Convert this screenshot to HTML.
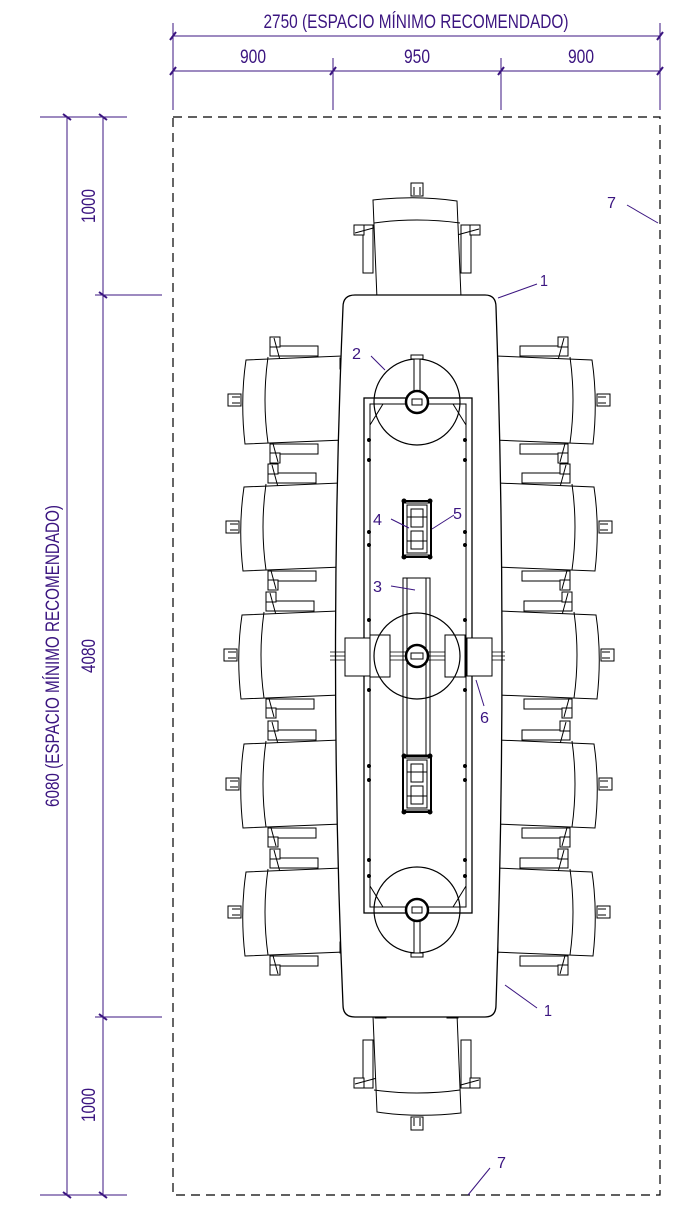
<!DOCTYPE html>
<html><head><meta charset="utf-8"><style>
html,body{margin:0;padding:0;background:#fff;}
svg{display:block;}
text{font-family:"Liberation Sans",sans-serif;fill:#3b1580;}
</style></head><body>
<svg width="685" height="1205" viewBox="0 0 685 1205" xmlns="http://www.w3.org/2000/svg">
<defs>
<g id="chair" fill="#fff" stroke="#000" stroke-width="1">
  <rect x="-12" y="-6" width="13" height="12"/>
  <path d="M-8,-3 h8 M-8,3 h8" fill="none"/>
  <rect x="30" y="-54" width="48" height="10"/>
  <rect x="30" y="44" width="48" height="10"/>
  <rect x="30" y="-63" width="10" height="10"/>
  <rect x="30" y="53" width="10" height="10"/>
  <path d="M34,-62 L40,-40 M38,62 L32,40" fill="none"/>
  <path d="M6,-40 Q0,0 5,44 L104,40 Q100,0 102,-44 Z"/>
  <path d="M28,-43 Q22,0 28,43" fill="none"/>
  <rect x="100" y="-42" width="4" height="11"/>
  <rect x="100" y="30" width="4" height="11"/>
</g>
<g id="mech" fill="none" stroke="#000" stroke-width="1">
  <rect x="-14" y="-28" width="28" height="56" stroke-width="2"/>
  <rect x="-10" y="-24" width="20" height="48"/>
  <rect x="-6" y="-20" width="12" height="18"/>
  <rect x="-6" y="2" width="12" height="18"/>
  <path d="M-14,-26 h28 M-14,26 h28 M-10,-12 h20 M-10,12 h20"/>
  <circle cx="-13" cy="-28" r="2" fill="#000"/><circle cx="13" cy="-28" r="2" fill="#000"/>
  <circle cx="-13" cy="28" r="2" fill="#000"/><circle cx="13" cy="28" r="2" fill="#000"/>
</g>
<g id="leg" fill="none" stroke="#000">
  <circle cx="0" cy="0" r="43" stroke-width="1.2"/>
  <rect x="-3" y="-44" width="6" height="34" fill="#fff"/>
  <rect x="-6" y="-47" width="12" height="4" fill="#fff"/>
  <circle cx="0" cy="0" r="11" stroke-width="2.5" fill="#fff"/>
  <rect x="-5" y="-3" width="10" height="6"/>
</g>
</defs>

<g stroke="#3b1580" stroke-width="1" fill="none">
  <path d="M173,23 V110 M333,58 V110 M501,58 V110 M660,23 V110"/>
  <path d="M173,36 H660 M173,71 H660"/>
  <path d="M170,40 L176,32 M657,40 L663,32 M170,75 L176,67 M330,75 L336,67 M498,75 L504,67 M657,75 L663,67" stroke-width="2"/>
  <path d="M40,117 H127 M95,295 H162 M95,1017 H162 M40,1195 H127"/>
  <path d="M67,117 V1195 M103,117 V1195"/>
  <path d="M63,114 L71,120 M99,114 L107,120 M99,292 L107,298 M99,1014 L107,1020 M63,1192 L71,1198 M99,1192 L107,1198" stroke-width="2"/>
</g>
<text x="416" y="28" font-size="19" text-anchor="middle" textLength="305" lengthAdjust="spacingAndGlyphs">2750 (ESPACIO MÍNIMO RECOMENDADO)</text>
<text x="253" y="63" font-size="19" text-anchor="middle" textLength="26" lengthAdjust="spacingAndGlyphs">900</text>
<text x="417" y="63" font-size="19" text-anchor="middle" textLength="26" lengthAdjust="spacingAndGlyphs">950</text>
<text x="581" y="63" font-size="19" text-anchor="middle" textLength="26" lengthAdjust="spacingAndGlyphs">900</text>
<text transform="translate(95,206) rotate(-90)" font-size="19" text-anchor="middle" textLength="34" lengthAdjust="spacingAndGlyphs">1000</text>
<text transform="translate(95,656) rotate(-90)" font-size="19" text-anchor="middle" textLength="34" lengthAdjust="spacingAndGlyphs">4080</text>
<text transform="translate(95,1105) rotate(-90)" font-size="19" text-anchor="middle" textLength="34" lengthAdjust="spacingAndGlyphs">1000</text>
<text transform="translate(59,656) rotate(-90)" font-size="19" text-anchor="middle" textLength="302" lengthAdjust="spacingAndGlyphs">6080 (ESPACIO MÍNIMO RECOMENDADO)</text>

<rect x="173" y="117" width="487" height="1078" fill="none" stroke="#000" stroke-width="1.2" stroke-dasharray="9,6"/>

<use href="#chair" transform="translate(417,195) rotate(90)"/>
<use href="#chair" transform="translate(417,1118) rotate(-90)"/>
<use href="#chair" transform="translate(240,400)"/>
<use href="#chair" transform="translate(238,527)"/>
<use href="#chair" transform="translate(236,655)"/>
<use href="#chair" transform="translate(238,784)"/>
<use href="#chair" transform="translate(240,912)"/>
<use href="#chair" transform="translate(598,400) scale(-1,1)"/>
<use href="#chair" transform="translate(600,527) scale(-1,1)"/>
<use href="#chair" transform="translate(602,655) scale(-1,1)"/>
<use href="#chair" transform="translate(600,784) scale(-1,1)"/>
<use href="#chair" transform="translate(598,912) scale(-1,1)"/>

<path d="M355,295 H485 Q496,295 496,307 Q508,656 496,1005 Q496,1017 485,1017 H355 Q343,1017 343,1005 Q328,656 343,307 Q343,295 355,295 Z" fill="#fff" stroke="#000" stroke-width="1.3"/>

<g fill="none" stroke="#000" stroke-width="1">
  <rect x="364" y="398" width="108" height="515" stroke-width="1.3"/>
  <rect x="370" y="404" width="96" height="503"/>
  <path d="M370,425 L383,404 M466,425 L453,404 M370,886 L383,907 M466,886 L453,907"/>
  <path d="M403,578 H430 V755 H403 Z M407,578 V755 M426,578 V755"/>
  <path d="M330,656 H505 M330,652 H505 M330,660 H505" stroke-width="0.8"/>
  <rect x="345" y="638" width="25" height="38" fill="#fff"/>
  <rect x="370" y="635" width="20" height="42" fill="#fff"/>
  <rect x="445" y="635" width="20" height="42" fill="#fff"/>
  <rect x="467" y="638" width="25" height="38" fill="#fff"/>
</g>
<g fill="#000">
  <circle cx="369" cy="440" r="2"/><circle cx="369" cy="460" r="2"/><circle cx="465" cy="440" r="2"/><circle cx="465" cy="460" r="2"/>
  <circle cx="369" cy="532" r="2"/><circle cx="369" cy="545" r="2"/><circle cx="465" cy="532" r="2"/><circle cx="465" cy="545" r="2"/>
  <circle cx="369" cy="620" r="2"/><circle cx="465" cy="620" r="2"/><circle cx="369" cy="690" r="2"/><circle cx="465" cy="690" r="2"/>
  <circle cx="369" cy="766" r="2"/><circle cx="369" cy="780" r="2"/><circle cx="465" cy="766" r="2"/><circle cx="465" cy="780" r="2"/>
  <circle cx="369" cy="860" r="2"/><circle cx="369" cy="876" r="2"/><circle cx="465" cy="860" r="2"/><circle cx="465" cy="876" r="2"/>
</g>
<use href="#leg" transform="translate(417,402)"/>
<use href="#leg" transform="translate(417,910) scale(1,-1)"/>
<g fill="none" stroke="#000">
  <circle cx="417" cy="656" r="43" stroke-width="1.2"/>
  <circle cx="417" cy="656" r="11" stroke-width="2.5" fill="#fff"/>
  <rect x="411" y="653" width="12" height="6"/>
</g>
<use href="#mech" transform="translate(417,529)"/>
<use href="#mech" transform="translate(417,784)"/>

<g stroke="#3b1580" stroke-width="1" fill="none">
  <path d="M537,284 L498,298"/>
  <path d="M371,356 L385,370"/>
  <path d="M627,205 L658,223"/>
  <path d="M537,1008 L505,985"/>
  <path d="M490,1168 L468,1195"/>
  <path d="M391,586 L415,590"/>
  <path d="M391,519 L409,528"/>
  <path d="M454,515 L432,529"/>
  <path d="M484,706 L476,680"/>
</g>
<text x="540" y="286" font-size="16" textLength="8" lengthAdjust="spacingAndGlyphs">1</text>
<text x="352" y="359" font-size="16" textLength="9" lengthAdjust="spacingAndGlyphs">2</text>
<text x="607" y="208" font-size="16" textLength="9" lengthAdjust="spacingAndGlyphs">7</text>
<text x="544" y="1016" font-size="16" textLength="8" lengthAdjust="spacingAndGlyphs">1</text>
<text x="497" y="1168" font-size="16" textLength="9" lengthAdjust="spacingAndGlyphs">7</text>
<text x="373" y="592" font-size="16" textLength="9" lengthAdjust="spacingAndGlyphs">3</text>
<text x="373" y="525" font-size="16" textLength="9" lengthAdjust="spacingAndGlyphs">4</text>
<text x="453" y="519" font-size="16" textLength="9" lengthAdjust="spacingAndGlyphs">5</text>
<text x="480" y="723" font-size="16" textLength="9" lengthAdjust="spacingAndGlyphs">6</text>
</svg>
</body></html>
